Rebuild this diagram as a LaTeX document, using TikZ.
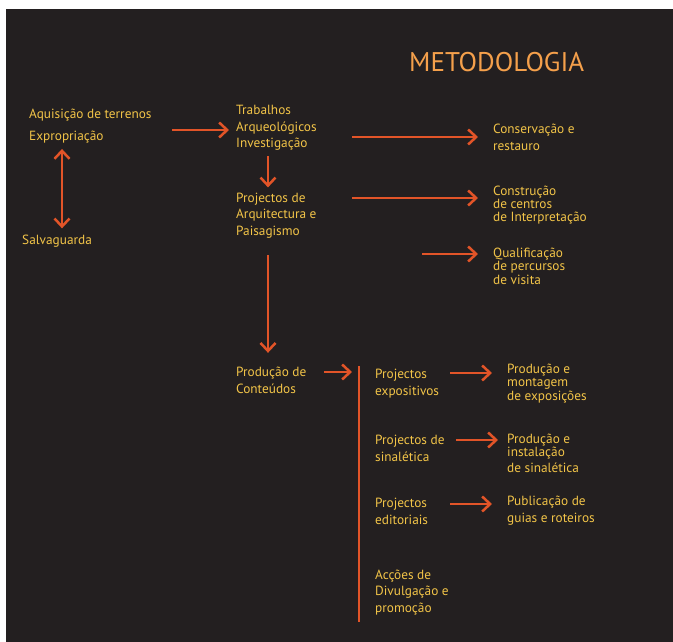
\documentclass[tikz,border=0pt]{standalone}
\usepackage{fontspec}
\setmainfont{PT Sans}
\usetikzlibrary{arrows.meta}

\definecolor{bgdark}{RGB}{35,31,32}
\definecolor{txtyel}{RGB}{242,196,72}
\definecolor{titleor}{RGB}{245,160,75}
\definecolor{arrred}{RGB}{226,84,40}

\begin{document}
\begin{tikzpicture}[x=1pt, y=-1pt,
  txt/.style={anchor=base west, inner sep=0pt, align=left, text=txtyel, font=\fontsize{13.3}{16.5}\selectfont},
  tight/.style={font=\fontsize{13.3}{13.3}\selectfont},
  title/.style={anchor=base west, inner sep=0pt, text=titleor, font=\fontsize{27}{30}\selectfont},
  arr/.style={draw=arrred, line width=2.5pt, -{Straight Barb[length=8pt,width=15pt]}},
  dbl/.style={draw=arrred, line width=2.5pt, {Straight Barb[length=8pt,width=15pt]}-{Straight Barb[length=8pt,width=15pt]}},
  bar/.style={draw=arrred, line width=2.5pt}]
  \useasboundingbox (0,0) rectangle (673,642);
  \fill[bgdark] (6,9) rectangle (673,642);

  \node[title] (title) at (409,72) {METODOLOGIA};

  % first column (nodes sit on the baseline of their last line)
  \node[txt] (aquis) at (29,140) {Aquisição de terrenos\\[4.5pt]Expropriação};
  \node[txt] (salv) at (22,244) {Salvaguarda};
  \coordinate (dx) at (62,0);
  \draw[dbl, shorten <=6pt, shorten >=6pt] (aquis.south -| dx) -- (salv.north -| dx);

  % second column
  \node[txt] (trab) at (236,148) {Trabalhos\\Arqueológicos\\Investigação};
  \node[txt] (arqp) at (236,235) {Projectos de\\Arquitectura e\\Paisagismo};
  \node[txt] (cont) at (236,393) {Produção de\\Conteúdos};
  \coordinate (a1) at (172,130);
  \draw[arr, shorten >=7pt] (a1) -- (a1 -| trab.west);
  \coordinate (cx) at (268,0);
  \draw[arr, shorten <=5pt, shorten >=5pt] (trab.south -| cx) -- (arqp.north -| cx);
  \draw[arr, shorten <=17pt, shorten >=14pt] (arqp.south -| cx) -- (cont.north -| cx);

  % right column
  \node[txt] (cons) at (493,150) {Conservação e\\restauro};
  \node[txt,tight] (centros) at (493,222) {Construção\\de centros\\de Interpretação};
  \node[txt,tight] (visita) at (493,284) {Qualificação\\de percursos\\de visita};
  \coordinate (r1) at (352,137);
  \coordinate (r2) at (352,198);
  \coordinate (r3) at (422,254);
  \draw[arr, shorten >=15pt] (r1) -- (r1 -| cons.west);
  \draw[arr, shorten >=15pt] (r2) -- (r2 -| centros.west);
  \draw[arr, shorten >=15pt] (r3) -- (r3 -| visita.west);

  % contents
  \coordinate (bartop) at (359,366);
  \coordinate (barbot) at (359,622);
  \coordinate (c1) at (324,372);
  \draw[arr, shorten >=7pt] (c1) -- (c1 -| bartop);
  \draw[bar] (bartop) -- (barbot);

  \node[txt] (expos) at (375,395) {Projectos\\expositivos};
  \node[txt,tight] (montag) at (507,400) {Produção e\\montagem\\de exposições};
  \node[txt] (sinal) at (375,461) {Projectos de\\sinalética};
  \node[txt,tight] (instal) at (507,472) {Produção e\\instalação\\[2pt]de sinalética};
  \node[txt] (edit) at (375,524) {Projectos\\editoriais};
  \node[txt] (guias) at (507,522) {Publicação de\\guias e roteiros};
  \node[txt] (accoes) at (375,612) {Acções de\\Divulgação e\\promoção};

  \coordinate (p1) at (450,373);
  \coordinate (p2) at (456,440);
  \coordinate (p3) at (450,504);
  \draw[arr, shorten >=15pt] (p1) -- (p1 -| montag.west);
  \draw[arr, shorten >=9pt] (p2) -- (p2 -| instal.west);
  \draw[arr, shorten >=15pt] (p3) -- (p3 -| guias.west);
\end{tikzpicture}
\end{document}
